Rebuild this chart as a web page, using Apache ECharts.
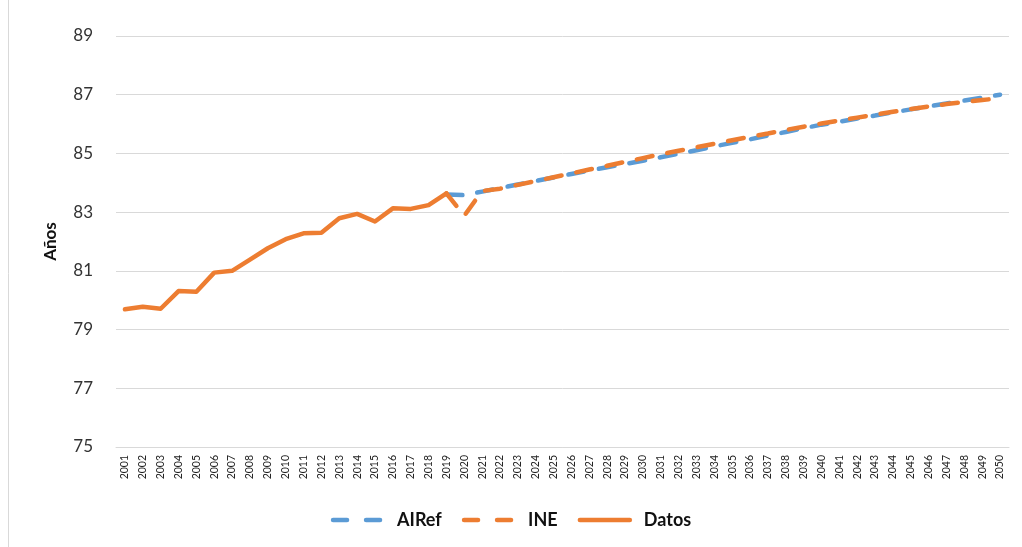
<!DOCTYPE html>
<html>
<head>
<meta charset="utf-8">
<script src="https://cdn.jsdelivr.net/npm/echarts@6/dist/echarts.min.js"></script>
<style>
html,body{margin:0;padding:0;background:#fff;}
#chart{width:1022px;height:547px;}
</style>
</head>
<body>
<div id="chart"></div>
<script>
const years = [];
for (let y = 2001; y <= 2050; y++) years.push(String(y));

const datos = [79.69, 79.78, 79.71, 80.31, 80.29, 80.94, 81.00, 81.38, 81.77, 82.08,
  82.28, 82.30, 82.79, 82.94, 82.68, 83.13, 83.11, 83.24, 83.64];

const airef = [83.60, 83.58, 83.70, 83.82, 83.94, 84.06, 84.18, 84.30, 84.42, 84.53,
  84.64, 84.75, 84.87, 84.99, 85.11, 85.24, 85.36, 85.48, 85.61, 85.73, 85.86,
  85.98, 86.08, 86.19, 86.29, 86.40, 86.50, 86.60, 86.70, 86.80, 86.90, 87.00];

const ine = [83.64, 82.88, 83.72, 83.80, 83.93, 84.06, 84.19, 84.32, 84.45, 84.58,
  84.71, 84.84, 84.97, 85.09, 85.21, 85.33, 85.45, 85.57, 85.68, 85.80, 85.91,
  86.02, 86.12, 86.22, 86.32, 86.42, 86.51, 86.60, 86.68, 86.75, 86.82, 86.88];

const yTicks = [75, 77, 79, 81, 83, 85, 87, 89];

const pad = (arr, before) => new Array(before).fill(null).concat(arr);
const datosFull = datos.concat(new Array(years.length - datos.length).fill(null));
const airefFull = pad(airef, years.length - airef.length);
const ineFull = pad(ine, years.length - ine.length);

const BLUE = '#5B9BD5', ORANGE = '#ED7D31';
const FONT = 'Lato';
const DASH = [16, 15];
const LEGEND_DASH = [14, 19];

const chart = echarts.init(document.getElementById('chart'), null, {renderer: 'canvas'});
chart.setOption({
  backgroundColor: '#fff',
  animation: false,
  grid: {left: 116, right: 13, top: 36, bottom: 100, containLabel: false},
  legend: {
    bottom: 13,
    left: 'center',
    itemWidth: 50,
    itemHeight: 10,
    itemGap: 20,
    itemStyle: {opacity: 0},
    textStyle: {fontFamily: FONT, fontWeight: 'bold', fontSize: 18, color: '#111', padding: [0, 0, 0, 9]},
    data: [
      {name: 'AIRef', lineStyle: {color: BLUE, width: 4.5, type: LEGEND_DASH, cap: 'round', opacity: 1}},
      {name: 'INE', lineStyle: {color: ORANGE, width: 4.5, type: LEGEND_DASH, cap: 'round', opacity: 1}},
      {name: 'Datos', lineStyle: {color: ORANGE, width: 4.5, type: 'solid', cap: 'round', opacity: 1}}
    ]
  },
  graphic: [{
    type: 'line', shape: {x1: 8.5, y1: 0, x2: 8.5, y2: 547},
    style: {stroke: '#d9d9d9', lineWidth: 1}
  }],
  xAxis: {
    type: 'category',
    data: years,
    boundaryGap: true,
    axisLine: {show: true, lineStyle: {color: '#d9d9d9', width: 1}},
    axisTick: {show: false},
    axisLabel: {rotate: 90, interval: 0, fontFamily: FONT, fontSize: 10.5, color: '#222', margin: 8}
  },
  yAxis: {
    type: 'value',
    min: yTicks[0],
    max: yTicks[yTicks.length - 1],
    interval: 2,
    name: 'Años',
    nameLocation: 'middle',
    nameGap: 57,
    nameRotate: 90,
    nameTextStyle: {fontFamily: FONT, fontWeight: 'bold', fontSize: 17, color: '#111'},
    axisLine: {show: false},
    axisTick: {show: false},
    axisLabel: {fontFamily: FONT, fontSize: 17, color: '#333', margin: 23},
    splitLine: {lineStyle: {color: '#d9d9d9', width: 1}}
  },
  series: [
    {
      name: 'AIRef', type: 'line', data: airefFull, showSymbol: false, symbol: 'none',
      lineStyle: {color: BLUE, width: 4.5, type: DASH, cap: 'round'},
      itemStyle: {color: BLUE}, z: 2
    },
    {
      name: 'INE', type: 'line', data: ineFull, showSymbol: false, symbol: 'none',
      lineStyle: {color: ORANGE, width: 4.5, type: DASH, cap: 'round'},
      itemStyle: {color: ORANGE}, z: 3
    },
    {
      name: 'Datos', type: 'line', data: datosFull, showSymbol: false, symbol: 'none',
      lineStyle: {color: ORANGE, width: 4.5, cap: 'round', join: 'round'},
      itemStyle: {color: ORANGE}, z: 4
    }
  ]
});
</script>
</body>
</html>
